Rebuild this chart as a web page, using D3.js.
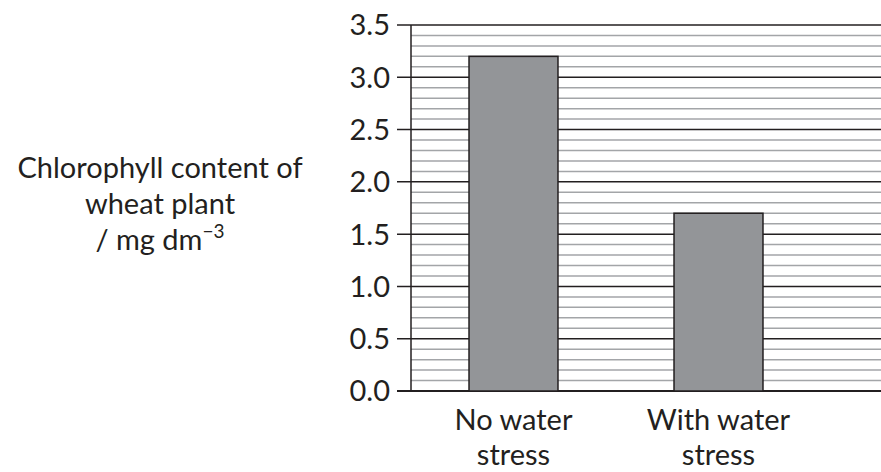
<!DOCTYPE html>
<html><head><meta charset="utf-8">
<script src="https://cdn.jsdelivr.net/npm/d3@7"></script>
<style>body{margin:0;background:#fff}svg{display:block}text{font-family:Lato,"Open Sans",sans-serif;fill:#231f20}</style>
</head><body><div id="c"></div>
<script>
const categories = [["No water","stress"],["With water","stress"]];
const values = [3.2, 1.7];
const majorTicks = [0.0,0.5,1.0,1.5,2.0,2.5,3.0,3.5];
const minorTicks = d3.range(0, 36).map(i => i/10);
const titleLines = ["Chlorophyll content of","wheat plant"];

const W = 881, H = 472;
const svg = d3.select("#c").append("svg").attr("width", W).attr("height", H);
const y = d3.scaleLinear().domain([0, 3.5]).range([391, 25]);
const x = d3.scaleBand().domain(categories.map(c => c.join(" "))).range([411, 821]).paddingInner(0.566).paddingOuter(0.283);
const xr = 881, x0 = 411;

// minor grid
svg.append("g").selectAll("line").data(minorTicks.filter(v => Math.abs(v*2 - Math.round(v*2)) > 1e-6))
  .join("line").attr("x1", x0).attr("x2", xr).attr("y1", d => y(d)).attr("y2", d => y(d))
  .attr("stroke", "#a3a5a8").attr("stroke-width", 1.5);
// major grid + ticks
svg.append("g").selectAll("line").data(majorTicks)
  .join("line").attr("x1", 397).attr("x2", xr).attr("y1", d => y(d)).attr("y2", d => y(d))
  .attr("stroke", "#231f20").attr("stroke-width", d => d === 0 ? 2 : 1.5);
// y axis line
svg.append("line").attr("x1", x0).attr("x2", x0).attr("y1", y(3.5)).attr("y2", y(0))
  .attr("stroke", "#231f20").attr("stroke-width", 1.5);
// bars
svg.append("g").selectAll("rect").data(values).join("rect")
  .attr("x", (d,i) => x(categories[i].join(" "))).attr("width", x.bandwidth())
  .attr("y", d => y(d)).attr("height", d => y(0) - y(d))
  .attr("fill", "#939598").attr("stroke", "#231f20").attr("stroke-width", 1.5);
// tick labels
svg.append("g").selectAll("text").data(majorTicks).join("text")
  .attr("x", 390).attr("y", d => y(d)).attr("dy", "0.36em").attr("text-anchor", "end")
  .attr("font-size", 29).text(d => d.toFixed(1));
// category labels
categories.forEach((c, i) => {
  const cx = x(c.join(" ")) + x.bandwidth()/2;
  c.forEach((line, j) => {
    svg.append("text").attr("x", cx).attr("y", 430 + j*35).attr("text-anchor", "middle")
      .attr("font-size", 29).text(line);
  });
});
// y title
const tcx = 160;
titleLines.forEach((l, j) => {
  svg.append("text").attr("x", tcx).attr("y", 178 + j*36).attr("text-anchor", "middle")
    .attr("font-size", 29).text(l);
});
const t3 = svg.append("text").attr("x", tcx).attr("y", 250).attr("text-anchor", "middle").attr("font-size", 29);
t3.append("tspan").text("/ mg dm");
t3.append("tspan").attr("dy", -12).attr("font-size", 19).text("−3");
</script></body></html>
